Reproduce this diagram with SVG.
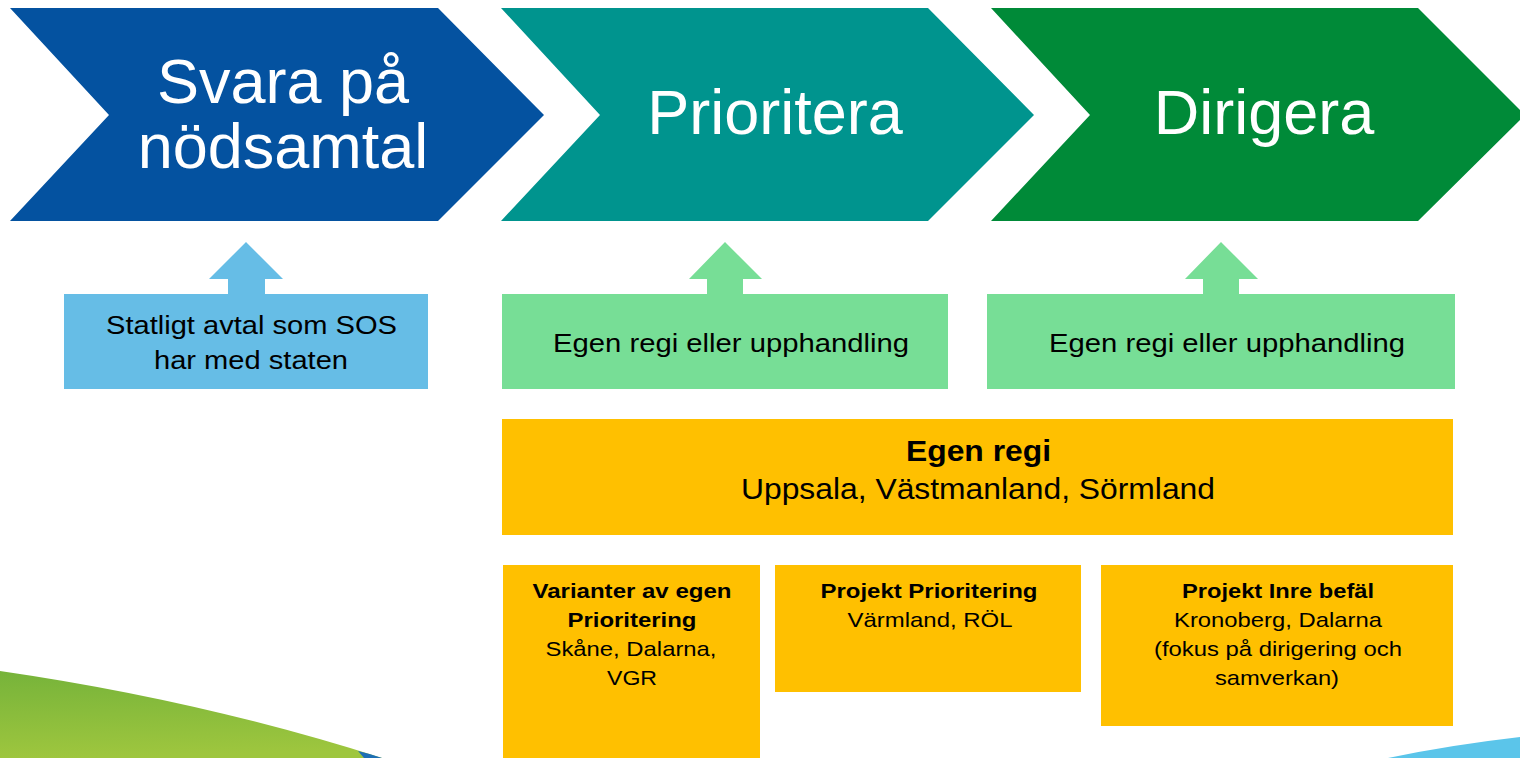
<svg xmlns="http://www.w3.org/2000/svg" width="1520" height="758" viewBox="0 0 1520 758">
<defs>
<linearGradient id="gGreen" x1="0" y1="0" x2="0.1" y2="1">
<stop offset="0" stop-color="#76B33A"/>
<stop offset="1" stop-color="#9EC63E"/>
</linearGradient>
</defs>
<style>
.t{font-family:"Liberation Sans",Arial,sans-serif;text-anchor:middle}
.big{font-size:63px;fill:#ffffff}
.mid{font-size:25px;fill:#000000}
.sm{font-size:21px;fill:#000000}
.b{font-weight:bold}
.lb{fill:#66BDE6}
.lg{fill:#77DE96}
.y{fill:#FFC000}
</style>
<rect width="1520" height="758" fill="#ffffff"/>
<g id="decor">
<path d="M0,671 Q200,700 382,758 L0,758 Z" fill="url(#gGreen)"/>
<path d="M358,751 Q371,754 382,758 L364,758 Z" fill="#1E6FB5"/>
<path d="M1388,758 Q1450,745 1520,737 L1520,758 Z" fill="#5BC5EA"/>
</g>
<g id="step1">
<path d="M10,8 L438,8 L544,115 L438,221 L10,221 L109,115 Z" fill="#0452A0"/>
<text class="t big" x="283" y="103">Svara på</text>
<text class="t big" x="283" y="168">nödsamtal</text>
</g>
<g id="step2">
<path d="M501,8 L928,8 L1034,115 L928,221 L501,221 L600,115 Z" fill="#00948E"/>
<text class="t big" x="775" y="134">Prioritera</text>
</g>
<g id="step3">
<path d="M991,8 L1418,8 L1525,115 L1418,221 L991,221 L1090,115 Z" fill="#008A38"/>
<text class="t big" x="1264" y="134">Dirigera</text>
</g>
<g id="connectors">
<path class="lb" d="M246,242 L283,279 L265,279 L265,295 L228,295 L228,279 L209,279 Z"/>
<path class="lg" d="M725,242 L762,279 L743,279 L743,295 L707,295 L707,279 L689,279 Z"/>
<path class="lg" d="M1221,242 L1258,279 L1239,279 L1239,295 L1203,295 L1203,279 L1185,279 Z"/>
</g>
<g id="sos">
<rect class="lb" x="64" y="294" width="364" height="95"/>
<text class="t mid" x="251.5" y="334" textLength="291" lengthAdjust="spacingAndGlyphs">Statligt avtal som SOS</text>
<text class="t mid" x="251" y="369" textLength="194" lengthAdjust="spacingAndGlyphs">har med staten</text>
</g>
<g id="regi1">
<rect class="lg" x="502" y="294" width="446" height="95"/>
<text class="t mid" x="731" y="352" textLength="356" lengthAdjust="spacingAndGlyphs">Egen regi eller upphandling</text>
</g>
<g id="regi2">
<rect class="lg" x="987" y="294" width="468" height="95"/>
<text class="t mid" x="1227" y="352" textLength="356" lengthAdjust="spacingAndGlyphs">Egen regi eller upphandling</text>
</g>
<g id="egenregi">
<rect class="y" x="502" y="419" width="951" height="116"/>
<text class="t b" x="978.5" y="461" font-size="29" textLength="145" lengthAdjust="spacingAndGlyphs">Egen regi</text>
<text class="t" x="978" y="499" font-size="29" textLength="474" lengthAdjust="spacingAndGlyphs">Uppsala, Västmanland, Sörmland</text>
</g>
<g id="varianter">
<rect class="y" x="503" y="565" width="257" height="193"/>
<text class="t sm b" x="632" y="598" textLength="199" lengthAdjust="spacingAndGlyphs">Varianter av egen</text>
<text class="t sm b" x="632" y="627" textLength="129" lengthAdjust="spacingAndGlyphs">Prioritering</text>
<text class="t sm" x="631" y="656" textLength="171" lengthAdjust="spacingAndGlyphs">Skåne, Dalarna,</text>
<text class="t sm" x="632" y="685" textLength="50" lengthAdjust="spacingAndGlyphs">VGR</text>
</g>
<g id="projprio">
<rect class="y" x="775" y="565" width="306" height="127"/>
<text class="t sm b" x="929" y="598" textLength="217" lengthAdjust="spacingAndGlyphs">Projekt Prioritering</text>
<text class="t sm" x="930" y="627" textLength="165" lengthAdjust="spacingAndGlyphs">Värmland, RÖL</text>
</g>
<g id="inrebefal">
<rect class="y" x="1101" y="565" width="352" height="161"/>
<text class="t sm b" x="1278" y="598" textLength="192" lengthAdjust="spacingAndGlyphs">Projekt Inre befäl</text>
<text class="t sm" x="1278" y="627" textLength="208" lengthAdjust="spacingAndGlyphs">Kronoberg, Dalarna</text>
<text class="t sm" x="1278" y="656" textLength="248" lengthAdjust="spacingAndGlyphs">(fokus på dirigering och</text>
<text class="t sm" x="1277" y="685" textLength="124" lengthAdjust="spacingAndGlyphs">samverkan)</text>
</g>
</svg>
